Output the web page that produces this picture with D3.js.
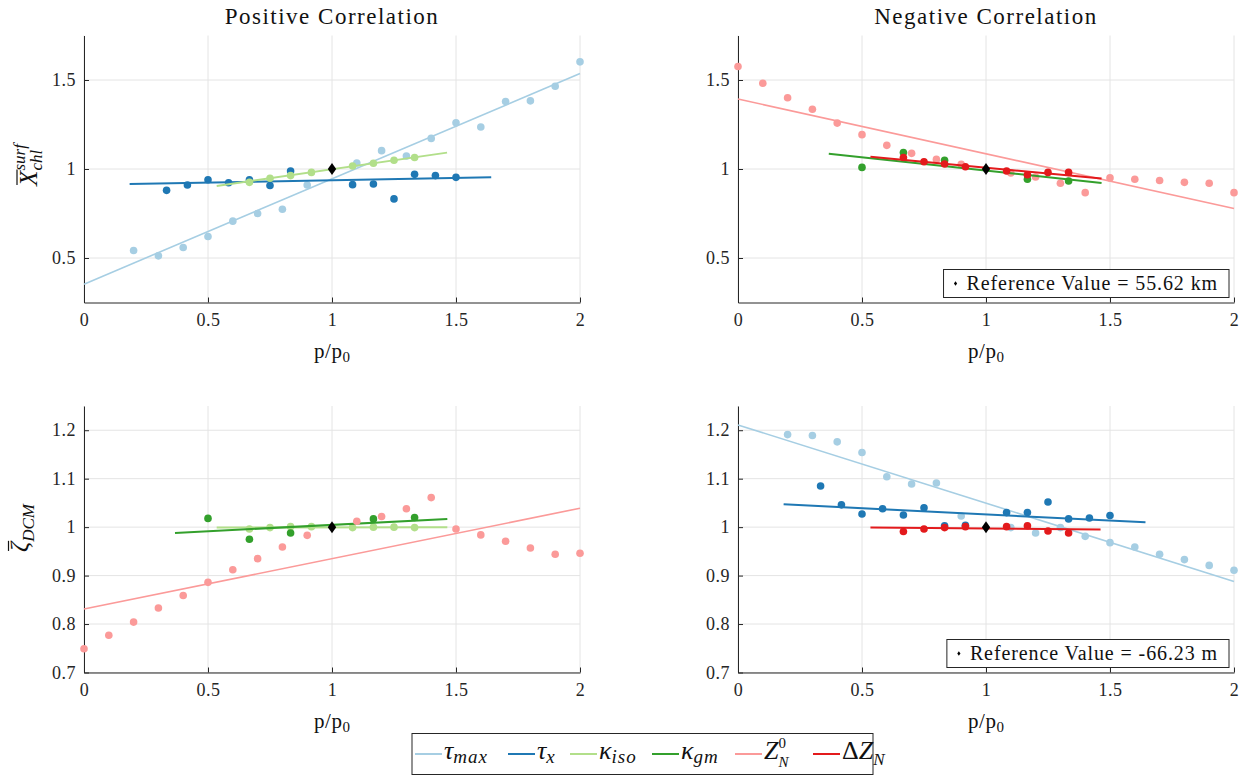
<!DOCTYPE html>
<html>
<head>
<meta charset="utf-8">
<script src="https://cdnjs.cloudflare.com/ajax/libs/d3/7.8.5/d3.min.js"></script>
<style>
  body { margin: 0; background: #fff; }
  svg { font-family: "Liberation Serif", serif; }
  .grid line { stroke: #e4e4e4; stroke-width: 1; }
  .axis path, .axis line { stroke: #262626; stroke-width: 1; }
  .axis text { fill: #262626; font-size: 18px; font-family: "Liberation Serif", serif; letter-spacing: 0.5px; }
</style>
</head>
<body>
<svg id="chart" width="1252" height="778"></svg>
<script>
// ---- data ----
var xTicks = [0, 0.5, 1, 1.5, 2];
var yTicksTop = [0.5, 1, 1.5];
var yTicksBottom = [0.7, 0.8, 0.9, 1, 1.1, 1.2];

var xTenths = [0, 0.1, 0.2, 0.3, 0.4, 0.5, 0.6, 0.7, 0.8, 0.9, 1.1, 1.2, 1.3, 1.4, 1.5, 1.6, 1.7, 1.8, 1.9, 2.0];
var xTauMax = [0.2, 0.3, 0.4, 0.5, 0.6, 0.7, 0.8, 0.9, 1.1, 1.2, 1.3, 1.4, 1.5, 1.6, 1.7, 1.8, 1.9, 2.0];
var xTwelfths = [0.333, 0.417, 0.5, 0.583, 0.667, 0.75, 0.833, 0.917, 1.083, 1.167, 1.25, 1.333, 1.417, 1.5];
var xTauXA = [0.333, 0.417, 0.5, 0.583, 0.667, 0.75, 0.833, 1.083, 1.167, 1.25, 1.333, 1.417, 1.5];
var xInner = [0.667, 0.75, 0.833, 0.917, 1.083, 1.167, 1.25, 1.333];
var xGm = [0.5, 0.667, 0.833, 1.167, 1.333];

// top left: surface chl, positive correlation
var tauMaxA = [0.542, 0.512, 0.559, 0.621, 0.707, 0.750, 0.774, 0.910, 1.034, 1.103, 1.073, 1.172, 1.260, 1.236, 1.379, 1.383, 1.465, 1.602];
var tauMaxAFit = [[0, 0.353], [2, 1.536]];
var tauXA = [0.880, 0.910, 0.940, 0.923, 0.940, 0.907, 0.989, 0.912, 0.916, 0.832, 0.970, 0.963, 0.953];
var tauXAFit = [[0.184, 0.916], [1.642, 0.953]];
var kIsoA = [0.925, 0.948, 0.963, 0.981, 1.017, 1.032, 1.049, 1.065];
var kIsoAFit = [[0.535, 0.905], [1.464, 1.092]];

// top right: surface chl, negative correlation
var zN0B = [1.576, 1.482, 1.400, 1.336, 1.258, 1.193, 1.133, 1.088, 1.054, 1.026, 0.978, 0.955, 0.920, 0.867, 0.950, 0.942, 0.935, 0.925, 0.920, 0.867];
var zN0BFit = [[0, 1.393], [2, 0.778]];
var kGmB = [1.009, 1.093, 1.049, 0.942, 0.933];
var kGmBFit = [[0.366, 1.086], [1.466, 0.921]];
var dZB = [1.065, 1.041, 1.028, 1.013, 0.989, 0.968, 0.981, 0.981];
var dZBFit = [[0.534, 1.069], [1.466, 0.946]];

// bottom left: DCM depth, positive correlation
var kIsoC = [0.996, 0.999, 1.001, 1.001, 0.999, 1.000, 1.000, 0.999];
var kIsoCFit = [[0.535, 0.999], [1.465, 1.000]];
var kGmC = [1.018, 0.975, 0.988, 1.017, 1.020];
var kGmCFit = [[0.367, 0.988], [1.465, 1.017]];
var zN0C = [0.749, 0.777, 0.804, 0.833, 0.859, 0.886, 0.912, 0.935, 0.959, 0.983, 1.012, 1.022, 1.038, 1.061, 0.996, 0.984, 0.971, 0.957, 0.944, 0.946];
var zN0CFit = [[0, 0.831], [2, 1.039]];

// bottom right: DCM depth, negative correlation
var tauMaxD = [1.191, 1.189, 1.176, 1.154, 1.104, 1.089, 1.091, 1.023, 0.999, 0.988, 0.999, 0.981, 0.968, 0.959, 0.944, 0.933, 0.921, 0.911];
var tauMaxDFit = [[0, 1.211], [2, 0.888]];
var tauXD = [1.085, 1.046, 1.027, 1.038, 1.025, 1.040, 1.003, 1.004, 1.030, 1.030, 1.052, 1.017, 1.019, 1.024];
var tauXDFit = [[0.184, 1.047], [1.643, 1.010]];
var dZD = [0.991, 0.996, 0.999, 1.001, 1.001, 1.003, 0.992, 0.988];
var dZDFit = [[0.534, 0.999], [1.462, 0.995]];

var refPoint = [1, 1];
var refLabelB = "Reference Value = 55.62 km";
var refLabelD = "Reference Value = -66.23 m";

var colors = {
  tauMax: "#a6cee3", tauX: "#1f78b4", kIso: "#b2df8a",
  kGm: "#33a02c", zN0: "#fb9a99", dZ: "#e31a1c"
};

// ---- layout ----
var svg = d3.select("#chart");
var plotW = 496;
var fmt = function(d) { return String(d); };

// writes a small math expression as separate text pieces; returns total width
function mathText(g, x, y, parts, anchor) {
  var grp = g.append("g");
  var cx = 0, prevX = 0, w = 0;
  parts.forEach(function(p) {
    var px = p.stack ? prevX : cx;
    var t = grp.append("text")
      .attr("x", px).attr("y", p.dy || 0)
      .attr("font-size", p.size)
      .attr("font-style", p.italic === false ? "normal" : "italic")
      .attr("fill", "#111")
      .style("letter-spacing", (p.ls || 0) + "px")
      .text(p.t);
    var tw = t.node().getComputedTextLength();
    if (p.over) {
      grp.append("line")
        .attr("x1", px + 1).attr("x2", px + tw + 1)
        .attr("y1", -p.size * p.over).attr("y2", -p.size * p.over)
        .attr("stroke", "#111").attr("stroke-width", 1.2);
    }
    prevX = px;
    cx = Math.max(cx, px + tw);
    w = cx;
  });
  var shift = anchor === "middle" ? -w / 2 : 0;
  grp.attr("transform", "translate(" + (x + shift) + "," + y + ")");
  return w;
}

var diamondPath = "M0,-6L4.2,0L0,6L-4.2,0Z";

function drawPanel(p) {
  var x = d3.scaleLinear().domain([0, 2]).range([p.left, p.left + plotW]);
  var y = d3.scaleLinear().domain(p.yDomain).range([p.bottom, p.top]);
  var g = svg.append("g");

  var grid = g.append("g").attr("class", "grid");
  grid.selectAll(".gx").data(xTicks).enter().append("line")
    .attr("x1", function(d) { return x(d); }).attr("x2", function(d) { return x(d); })
    .attr("y1", p.top).attr("y2", p.bottom);
  grid.selectAll(".gy").data(p.yTicks).enter().append("line")
    .attr("x1", p.left).attr("x2", p.left + plotW)
    .attr("y1", function(d) { return y(d); }).attr("y2", function(d) { return y(d); });

  g.append("g").attr("class", "axis")
    .attr("transform", "translate(0," + p.bottom + ")")
    .call(d3.axisBottom(x).tickValues(xTicks).tickFormat(fmt).tickSizeInner(-5).tickSizeOuter(0).tickPadding(11));
  g.append("g").attr("class", "axis")
    .attr("transform", "translate(" + p.left + ",0)")
    .call(d3.axisLeft(y).tickValues(p.yTicks).tickFormat(fmt).tickSizeInner(-5).tickSizeOuter(0).tickPadding(8));

  var line = d3.line().x(function(d) { return x(d[0]); }).y(function(d) { return y(d[1]); });

  p.series.forEach(function(s) {
    var pts = s.x.map(function(v, i) { return [v, s.y[i]]; });
    g.append("g").selectAll("circle").data(pts).enter().append("circle")
      .attr("cx", function(d) { return x(d[0]); })
      .attr("cy", function(d) { return y(d[1]); })
      .attr("r", 3.8)
      .attr("fill", s.color);
    g.append("path").datum(s.fit)
      .attr("d", line)
      .attr("fill", "none")
      .attr("stroke", s.color)
      .attr("stroke-width", s.width || 1.6);
  });

  g.append("path").attr("d", diamondPath)
    .attr("transform", "translate(" + x(refPoint[0]) + "," + y(refPoint[1]) + ")")
    .attr("fill", "#000");

  if (p.title) {
    g.append("text")
      .attr("x", p.left + plotW / 2).attr("y", 24)
      .attr("text-anchor", "middle").attr("font-size", 23)
      .style("letter-spacing", "1.5px").attr("fill", "#111")
      .text(p.title);
  }

  // x label p/p0
  mathText(g, p.left + plotW / 2, p.bottom + 55, [
    { t: "p/p", size: 21, italic: false, ls: 0.5 },
    { t: "0", size: 15, italic: false, dy: 4 }
  ], "middle");

  if (p.note) {
    var box = g.append("rect");
    var nt = g.append("text")
      .attr("font-size", 20).style("letter-spacing", "0.9px")
      .attr("fill", "#111").text(p.note);
    var tw = nt.node().getComputedTextLength();
    var bw = tw + 34, bh = 28;
    var bx = p.left + plotW - 5 - bw, by = p.bottom - 5 - bh;
    box.attr("x", bx).attr("y", by).attr("width", bw).attr("height", bh)
      .attr("fill", "#fff").attr("stroke", "#262626").attr("stroke-width", 1);
    nt.attr("x", bx + 23).attr("y", by + 20);
    g.append("path").attr("d", "M0,-2.2L1.6,0L0,2.2L-1.6,0Z")
      .attr("transform", "translate(" + (bx + 12) + "," + (by + 14) + ")")
      .attr("fill", "#000");
  }
  return g;
}

var panels = [
  { left: 84, top: 35.5, bottom: 302.5, yDomain: [0.25, 1.75], yTicks: yTicksTop,
    title: "Positive Correlation",
    series: [
      { x: xTauMax, y: tauMaxA, fit: tauMaxAFit, color: colors.tauMax },
      { x: xTauXA, y: tauXA, fit: tauXAFit, color: colors.tauX, width: 2 },
      { x: xInner, y: kIsoA, fit: kIsoAFit, color: colors.kIso, width: 2 }
    ] },
  { left: 738, top: 35.5, bottom: 302.5, yDomain: [0.25, 1.75], yTicks: yTicksTop,
    title: "Negative Correlation", note: refLabelB,
    series: [
      { x: xTenths, y: zN0B, fit: zN0BFit, color: colors.zN0 },
      { x: xGm, y: kGmB, fit: kGmBFit, color: colors.kGm, width: 2 },
      { x: xInner, y: dZB, fit: dZBFit, color: colors.dZ, width: 2 }
    ] },
  { left: 84, top: 406, bottom: 672.5, yDomain: [0.7, 1.25], yTicks: yTicksBottom,
    series: [
      { x: xInner, y: kIsoC, fit: kIsoCFit, color: colors.kIso, width: 2 },
      { x: xGm, y: kGmC, fit: kGmCFit, color: colors.kGm, width: 2 },
      { x: xTenths, y: zN0C, fit: zN0CFit, color: colors.zN0 }
    ] },
  { left: 738, top: 406, bottom: 672.5, yDomain: [0.7, 1.25], yTicks: yTicksBottom,
    note: refLabelD,
    series: [
      { x: xTauMax, y: tauMaxD, fit: tauMaxDFit, color: colors.tauMax },
      { x: xTwelfths, y: tauXD, fit: tauXDFit, color: colors.tauX, width: 2 },
      { x: xInner, y: dZD, fit: dZDFit, color: colors.dZ, width: 2 }
    ] }
];

panels.forEach(drawPanel);

// y labels (rotated)
var yl1 = svg.append("g").attr("transform", "translate(37,165) rotate(-90)");
mathText(yl1, 0, 0, [
  { t: "X", size: 25, over: 0.8 },
  { t: "chl", size: 17, dy: 5 },
  { t: "surf", size: 17, dy: -12, stack: true }
], "middle");

var yl2 = svg.append("g").attr("transform", "translate(28,528) rotate(-90)");
mathText(yl2, 0, 0, [
  { t: "ζ", size: 25, over: 0.78 },
  { t: "DCM", size: 17, dy: 6 }
], "middle");

// bottom legend
var legend = svg.append("g");
legend.append("rect")
  .attr("x", 412).attr("y", 733.5).attr("width", 461).attr("height", 41)
  .attr("fill", "#fff").attr("stroke", "#262626").attr("stroke-width", 1);

var legendItems = [
  { color: colors.tauMax, x0: 415, parts: [{ t: "τ", size: 26 }, { t: "max", size: 19, dy: 4, ls: 1 }] },
  { color: colors.tauX, x0: 508, parts: [{ t: "τ", size: 26 }, { t: "x", size: 19, dy: 4 }] },
  { color: colors.kIso, x0: 570, parts: [{ t: "κ", size: 26 }, { t: "iso", size: 19, dy: 4, ls: 1 }] },
  { color: colors.kGm, x0: 652, parts: [{ t: "κ", size: 26 }, { t: "gm", size: 19, dy: 4, ls: 1 }] },
  { color: colors.zN0, x0: 735, parts: [{ t: "Z", size: 26 }, { t: "N", size: 15, dy: 8 }, { t: "0", size: 15, dy: -11, stack: true, italic: false }] },
  { color: colors.dZ, x0: 813, parts: [{ t: "Δ", size: 26, italic: false }, { t: "Z", size: 26 }, { t: "N", size: 17, dy: 6 }] }
];

legendItems.forEach(function(it) {
  legend.append("line")
    .attr("x1", it.x0).attr("x2", it.x0 + 27)
    .attr("y1", 754).attr("y2", 754)
    .attr("stroke", it.color).attr("stroke-width", 2);
  mathText(legend, it.x0 + 29, 759, it.parts, "start");
});
</script>
</body>
</html>
